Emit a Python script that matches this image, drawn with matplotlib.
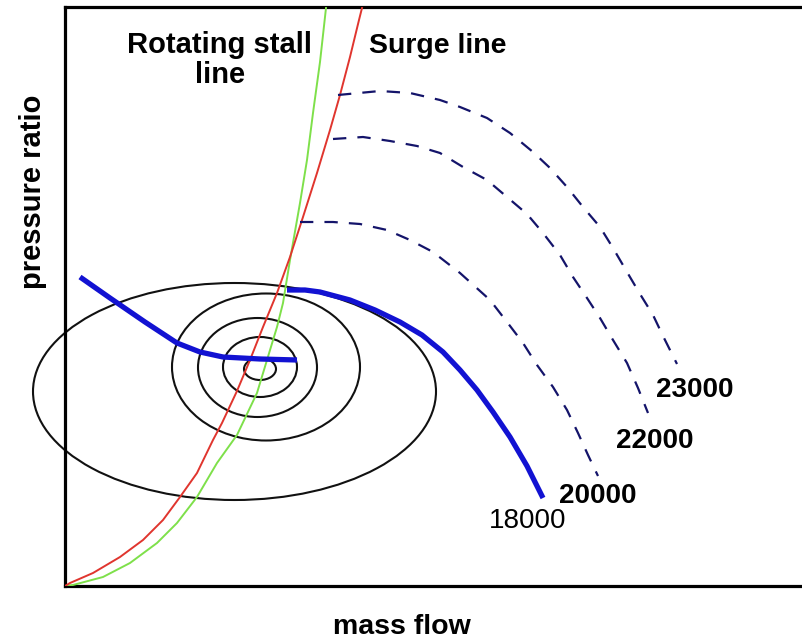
import numpy as np
import matplotlib.pyplot as plt
from matplotlib.patches import Ellipse

plt.rcParams['font.family'] = ['Liberation Sans', 'DejaVu Sans']

# Stall and surge lines (mass flow, pressure ratio) in picture units
stall_x = [0, 8, 38, 65, 92, 112, 132, 152, 172, 192, 202, 212, 218, 225, 235, 242, 248, 255, 261]
stall_y = [0, 1, 9, 23, 43, 63, 89, 123, 151, 193, 226, 259, 283, 326, 383, 426, 473, 524, 578]
surge_x = [0, 5, 28, 55, 78, 98, 115, 132, 148, 157, 172, 185, 198, 212, 225, 238, 252, 265, 275, 285, 294, 297]
surge_y = [0, 3, 13, 29, 46, 66, 89, 113, 146, 163, 195, 226, 259, 293, 329, 369, 413, 456, 491, 529, 566, 578]

# 18000 speed line: stalled part and normal part
s18_stall_x = [15, 45, 80, 112, 135, 158, 195, 232]
s18_stall_y = [309, 288, 264, 243, 234, 229, 227, 226]
s18_x = [222, 240, 255, 285, 310, 335, 357, 378, 395, 412, 428, 445, 462, 478]
s18_y = [296, 296, 294, 286, 276, 264, 251, 234, 216, 196, 174, 149, 120, 88]

# dashed speed lines
s20_x = [235, 268, 295, 322, 345, 368, 395, 425, 442, 458, 472, 488, 502, 513, 523, 533]
s20_y = [364, 364, 362, 356, 346, 334, 313, 286, 264, 243, 221, 199, 176, 153, 131, 110]
s22_x = [268, 298, 325, 352, 375, 398, 422, 442, 462, 478, 495, 508, 522, 535, 548, 562, 573, 583]
s22_y = [447, 449, 445, 440, 433, 419, 406, 389, 372, 353, 331, 309, 288, 268, 246, 223, 198, 173]
s23_x = [273, 315, 345, 375, 395, 422, 445, 468, 485, 502, 518, 535, 548, 562, 575, 588, 598, 612]
s23_y = [491, 495, 493, 486, 479, 468, 453, 434, 418, 399, 379, 359, 338, 314, 292, 271, 250, 222]

# rotating stall cells: centre x, centre y, width, height
cell_cx = [169.5, 201, 192.5, 195, 195]
cell_cy = [194.5, 219, 218.5, 219, 217]
cell_w = [403, 188, 119, 74, 32]
cell_h = [217, 147, 99, 60, 22]

speed_labels = ['23000', '22000', '20000', '18000']
label_x = [630, 590, 533, 463]
label_y = [189, 138, 83, 58]
label_weight = ['bold', 'bold', 'bold', 'normal']

fig = plt.figure(figsize=(8.03, 6.41), dpi=100)
ax = fig.add_axes([65 / 803, 55 / 641, 738 / 803, 579 / 641])
ax.set_xlim(0, 738)
ax.set_ylim(0, 579)
ax.set_xticks([])
ax.set_yticks([])
ax.spines['right'].set_visible(False)
for s in ['left', 'top', 'bottom']:
    ax.spines[s].set_linewidth(2.3)

for cx, cy, w, h in zip(cell_cx, cell_cy, cell_w, cell_h):
    ax.add_patch(Ellipse((cx, cy), w, h, fill=False, edgecolor='#111111',
                         linewidth=1.5, clip_on=False, zorder=2))

ax.plot(stall_x, stall_y, color='#7ee04a', linewidth=1.4, zorder=3)
ax.plot(surge_x, surge_y, color='#e0352e', linewidth=1.4, zorder=3)

for xs, ys in [(s20_x, s20_y), (s22_x, s22_y), (s23_x, s23_y)]:
    ax.plot(xs, ys, color='#14146a', linewidth=1.6, dashes=(6, 5), zorder=3)

ax.plot(s18_stall_x, s18_stall_y, color='#1212d2', linewidth=3.8,
        solid_capstyle='butt', solid_joinstyle='round', zorder=4)
ax.plot(s18_x, s18_y, color='#1212d2', linewidth=3.8,
        solid_capstyle='butt', solid_joinstyle='round', zorder=4)

for lab, lx, ly, wt in zip(speed_labels, label_x, label_y, label_weight):
    ax.text(lx, ly, lab, fontsize=20, fontweight=wt, ha='center', va='baseline')

ax.text(155, 533, 'Rotating stall', fontsize=21, fontweight='bold', ha='center', va='baseline')
ax.text(155, 503, 'line', fontsize=21, fontweight='bold', ha='center', va='baseline')
ax.text(373, 533, 'Surge line', fontsize=20.5, fontweight='bold', ha='center', va='baseline')

fig.text(33 / 803, 1 - 192 / 641, 'pressure ratio', rotation=90, fontsize=21,
         fontweight='bold', ha='center', va='center')
fig.text(402 / 803, 1 / 641, 'mass flow', fontsize=20.5, fontweight='bold',
         ha='center', va='bottom')

plt.savefig('out.png', dpi=100)
